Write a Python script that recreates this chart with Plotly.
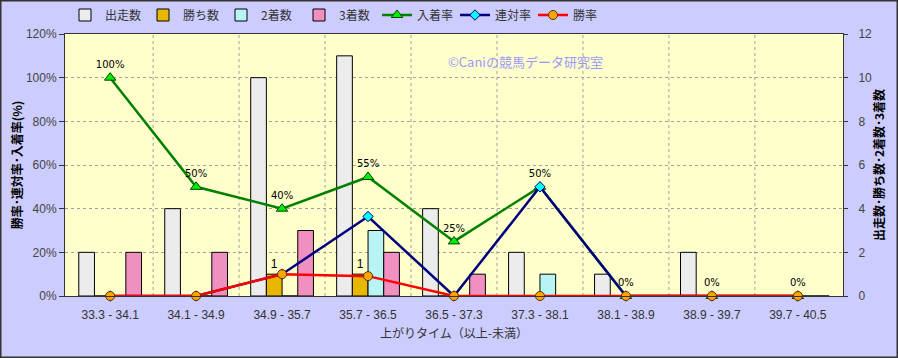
import plotly.graph_objects as go

categories = ["33.3 - 34.1", "34.1 - 34.9", "34.9 - 35.7", "35.7 - 36.5", "36.5 - 37.3",
              "37.3 - 38.1", "38.1 - 38.9", "38.9 - 39.7", "39.7 - 40.5"]
starts = [2, 4, 10, 11, 4, 2, 1, 2, 0]
wins = [0, 0, 1, 1, 0, 0, 0, 0, 0]
seconds = [0, 0, 0, 3, 0, 1, 0, 0, 0]
thirds = [2, 2, 3, 2, 1, 0, 0, 0, 0]
place_rate = [100, 50, 40, 54.5, 25, 50, 0, 0, 0]
quinella_rate = [0, 0, 10, 36.4, 0, 50, 0, 0, 0]
win_rate = [0, 0, 10, 9.1, 0, 0, 0, 0, 0]

JP = "Noto Sans CJK JP, Liberation Sans, sans-serif"
NUM = "Liberation Sans, Arial, sans-serif"

fig = go.Figure()
bar_line = dict(color="#000000", width=1)
fig.add_trace(go.Bar(name="出走数", x=categories, y=starts, yaxis="y",
                     marker=dict(color="#ececec", line=bar_line)))
fig.add_trace(go.Bar(name="勝ち数", x=categories, y=wins, yaxis="y",
                     marker=dict(color="#e8b800", line=bar_line),
                     text=[str(v) if v else "" for v in wins], textposition="outside",
                     textfont=dict(size=12, color="#000000", family=NUM), cliponaxis=False))
fig.add_trace(go.Bar(name="2着数", x=categories, y=seconds, yaxis="y",
                     marker=dict(color="#b8f4f4", line=bar_line)))
fig.add_trace(go.Bar(name="3着数", x=categories, y=thirds, yaxis="y",
                     marker=dict(color="#f090c0", line=bar_line)))

fig.add_trace(go.Scatter(name="入着率", x=categories, y=place_rate, yaxis="y2",
                         mode="lines+markers+text",
                         line=dict(color="#008000", width=2.5),
                         marker=dict(symbol="triangle-up", size=10, color="#00ee00",
                                     line=dict(color="#004000", width=1)),
                         text=[f"{round(v + 1e-9):.0f}%" for v in place_rate],
                         textposition="top center",
                         textfont=dict(size=10, color="#000000", family="DejaVu Sans"),
                         cliponaxis=False))
fig.add_trace(go.Scatter(name="連対率", x=categories, y=quinella_rate, yaxis="y2",
                         mode="lines+markers",
                         line=dict(color="#000080", width=2.5),
                         marker=dict(symbol="diamond", size=8, color="#00ffff",
                                     line=dict(color="#000080", width=1)),
                         cliponaxis=False))
fig.add_trace(go.Scatter(name="勝率", x=categories, y=win_rate, yaxis="y2",
                         mode="lines+markers",
                         line=dict(color="#ff0000", width=2.5),
                         marker=dict(symbol="circle", size=9, color="#ffa500",
                                     line=dict(color="#603000", width=1)),
                         cliponaxis=False))

W, H = 898, 358
ml, mr, mt, mb = 65, 55, 34, 62
pw, ph = W - ml - mr, H - mt - mb

shapes = []
for i in range(len(categories) - 1):
    shapes.append(dict(type="line", xref="x", yref="paper", x0=i + 0.5, x1=i + 0.5, y0=0, y1=1,
                       line=dict(color="#a0a0a0", width=1, dash="dot"), layer="below"))
shapes.append(dict(type="rect", xref="paper", yref="paper",
                   x0=-(ml - 0.75) / pw, x1=1 + (mr - 0.75) / pw, y0=-(mb - 0.75) / ph, y1=1 + (mt - 0.75) / ph,
                   line=dict(color="#333333", width=1.5), layer="above"))

fig.update_layout(
    width=W, height=H,
    margin=dict(l=ml, r=mr, t=mt, b=mb, autoexpand=False),
    paper_bgcolor="#ccccff", plot_bgcolor="#ffffcc",
    barmode="group", bargap=0.27, bargroupgap=0,
    font=dict(family=JP, size=12, color="#333333"),
    showlegend=True,
    legend=dict(orientation="h", x=0.0, y=1 + 19 / ph, yanchor="middle", xanchor="left",
                bgcolor="rgba(0,0,0,0)", font=dict(family=JP, size=12, color="#333333"),
                itemwidth=30, entrywidth=33, traceorder="normal"),
    xaxis=dict(type="category", showgrid=False, showline=True, linecolor="#333333", linewidth=1,
               mirror=True, ticks="outside", ticklen=8, tickcolor="rgba(0,0,0,0)",
               tickfont=dict(family=NUM, size=12, color="#333333"),
               title=dict(text="上がりタイム（以上-未満）", font=dict(family=JP, size=12, color="#333333"),
                          standoff=8)),
    yaxis=dict(side="right", range=[0, 12], dtick=2, showgrid=True, gridcolor="#a0a0a0",
               griddash="dot", gridwidth=1, zeroline=False, showline=True, linecolor="#333333",
               mirror=True, ticks="outside", ticklen=4, tickcolor="#333333", ticklabelstandoff=8,
               tickfont=dict(family=NUM, size=12, color="#444444"),
               title=dict(text="<b>出走数･勝ち数･2着数･3着数</b>", font=dict(family=JP, size=12, color="#000000"),
                          standoff=4)),
    yaxis2=dict(side="left", overlaying="y", range=[0, 120], dtick=20, ticksuffix="%",
                showgrid=False, zeroline=False, showline=True, linecolor="#333333",
                ticks="outside", ticklen=5, tickcolor="#333333",
                tickfont=dict(family=NUM, size=12, color="#444444"),
                title=dict(text="<b>勝率･連対率･入着率(%)</b>", font=dict(family=JP, size=12, color="#000000"),
                           standoff=0)),
    shapes=shapes,
    annotations=[dict(text="©Caniの競馬データ研究室", xref="paper", yref="paper",
                      x=(525 - ml) / pw, y=1 - (50 - mt) / ph, showarrow=False,
                      font=dict(family=JP, size=13, color="#9999ff"))],
)

fig.write_html("out.html", config={"displayModeBar": False},
               post_script="document.body.style.margin='0';document.body.style.overflow='hidden';")
